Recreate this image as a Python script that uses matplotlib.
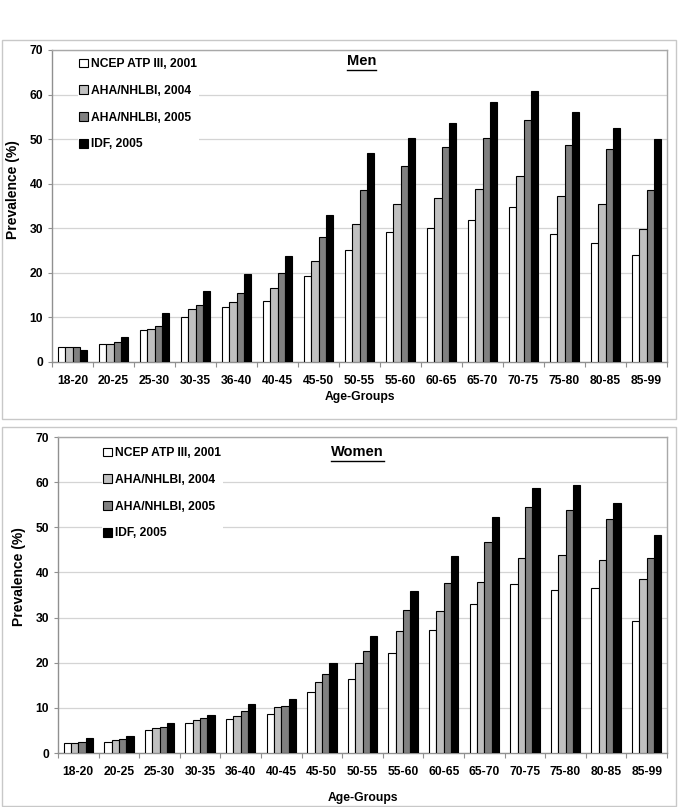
import matplotlib
matplotlib.use("Agg")
import matplotlib.pyplot as plt
from matplotlib.patches import Rectangle
from matplotlib.lines import Line2D
import numpy as np

plt.rcParams['font.family'] = ['Liberation Sans', 'DejaVu Sans']
plt.rcParams['font.weight'] = 'bold'

categories = ["18-20", "20-25", "25-30", "30-35", "36-40", "40-45", "45-50", "50-55",
              "55-60", "60-65", "65-70", "70-75", "75-80", "80-85", "85-99"]
series_names = ["NCEP ATP III, 2001", "AHA/NHLBI, 2004", "AHA/NHLBI, 2005", "IDF, 2005"]

men_ncep = [3.3, 4.0, 7.2, 10.1, 12.3, 13.6, 19.2, 25.2, 29.1, 30.0, 31.9, 34.7, 28.8, 26.7, 24.0]
men_aha04 = [3.3, 4.1, 7.3, 12.0, 13.4, 16.5, 22.7, 30.9, 35.5, 36.9, 38.9, 41.7, 37.2, 35.4, 29.9]
men_aha05 = [3.3, 4.4, 8.0, 12.9, 15.4, 20.0, 28.1, 38.7, 44.0, 48.2, 50.3, 54.2, 48.6, 47.8, 38.5]
men_idf = [2.8, 5.7, 10.9, 16.0, 19.8, 23.7, 33.0, 46.8, 50.3, 53.6, 58.4, 60.8, 56.0, 52.5, 50.0]

women_ncep = [2.2, 2.5, 5.2, 6.6, 7.5, 8.7, 13.6, 16.3, 22.2, 27.2, 33.0, 37.5, 36.0, 36.6, 29.3]
women_aha04 = [2.2, 2.8, 5.5, 7.3, 8.1, 10.1, 15.8, 20.0, 27.1, 31.5, 37.8, 43.3, 43.8, 42.8, 38.5]
women_aha05 = [2.5, 3.0, 5.7, 7.7, 9.2, 10.4, 17.4, 22.5, 31.6, 37.7, 46.8, 54.4, 53.8, 51.8, 43.3]
women_idf = [3.4, 3.8, 6.6, 8.4, 10.8, 11.9, 19.9, 26.0, 35.9, 43.7, 52.2, 58.8, 59.3, 55.4, 48.4]

colors = ["#FFFFFF", "#C0C0C0", "#808080", "#000000"]

W, H = 685, 807
fig = plt.figure(figsize=(W / 100, H / 100), dpi=100)


def fx(px):
    return px / W


def fy(py):
    return 1 - py / H


# outer panel boxes
for (x0, y0, x1, y1) in [(2, 40, 676, 419), (2, 427, 676, 806)]:
    fig.patches.append(Rectangle((fx(x0), fy(y1)), fx(x1 - x0), (y1 - y0) / H,
                                 transform=fig.transFigure, fill=False,
                                 edgecolor="#c8c8c8", linewidth=1.0))


def panel(rect_px, data, title, title_pos, legend_pos, ylab_coords, xlab_y):
    l, t, r, b = rect_px
    ax = fig.add_axes([fx(l), fy(b), fx(r - l), (b - t) / H])
    x = np.arange(len(categories))
    bw = 0.18
    offs = [-1.5 * bw, -0.5 * bw, 0.5 * bw, 1.5 * bw]
    handles = []
    for vals, c, o, name in zip(data, colors, offs, series_names):
        bc = ax.bar(x + o, vals, width=bw, color=c, edgecolor="black",
                    linewidth=0.8, label=name, zorder=3)
        handles.append(bc)
    ax.set_xlim(-0.5, len(categories) - 0.5)
    ax.set_ylim(0, 70)
    ax.set_yticks(np.arange(0, 71, 10))
    ax.yaxis.grid(True, color="#d4d4d4", linewidth=0.9, zorder=0)
    ax.set_axisbelow(True)
    ax.set_xticks(np.arange(-0.5, len(categories), 1.0))
    ax.set_xticklabels([])
    ax.set_xticks(x, minor=True)
    ax.set_xticklabels(categories, minor=True, fontsize=8.7, fontweight="bold")
    ax.tick_params(axis="x", which="major", length=3.5, color="#909090", direction="out")
    ax.tick_params(axis="x", which="minor", length=0, pad=9.5)
    ax.tick_params(axis="y", length=3, color="#909090", pad=3.5, labelsize=8.7)
    for lab in ax.get_yticklabels():
        lab.set_fontweight("bold")
    for s in ax.spines.values():
        s.set_color("#a8a8a8")
        s.set_linewidth(1.0)
    ax.spines["left"].set_color("#909090")
    ax.spines["bottom"].set_color("#909090")
    ax.set_ylabel("Prevalence (%)", fontsize=10, fontweight="bold")
    ax.yaxis.set_label_coords(*ylab_coords)
    ax.set_xlabel("Age-Groups", fontsize=8.7, fontweight="bold")
    ax.xaxis.set_label_coords(0.5, xlab_y)
    leg = ax.legend(handles=handles, loc="upper left",
                    bbox_to_anchor=(fx(legend_pos[0]), fy(legend_pos[1])),
                    bbox_transform=fig.transFigure,
                    prop={"size": 8.7, "weight": "bold"},
                    handlelength=0.75, handleheight=0.75, handletextpad=0.25,
                    labelspacing=1.22, borderpad=0.1, borderaxespad=0,
                    frameon=True, fancybox=False,
                    framealpha=1.0, edgecolor="none", facecolor="white")
    leg.set_zorder(5)
    for p in leg.get_patches():
        p.set_linewidth(0.8)
    txt = fig.text(fx(title_pos[0]), fy(title_pos[1]), title, fontsize=10.5,
                   fontweight="bold", ha="left", va="center")
    return ax, txt


ax1, t1 = panel((52, 50, 667, 362), [men_ncep, men_aha04, men_aha05, men_idf],
                "Men", (347, 61), (78, 57), (-0.052, 0.554), -0.093)
ax2, t2 = panel((58, 437, 667, 753), [women_ncep, women_aha04, women_aha05, women_idf],
                "Women", (331, 452), (102, 446), (-0.053, 0.557), -0.125)

fig.canvas.draw()
rend = fig.canvas.get_renderer()
for t in (t1, t2):
    bb = t.get_window_extent(renderer=rend)
    yline = bb.y0 - 1.5
    fig.lines.append(Line2D([bb.x0 / W, bb.x1 / W], [yline / H, yline / H],
                            transform=fig.transFigure, color="black", linewidth=1.0))

fig.savefig("out.png", dpi=100, facecolor="white")
